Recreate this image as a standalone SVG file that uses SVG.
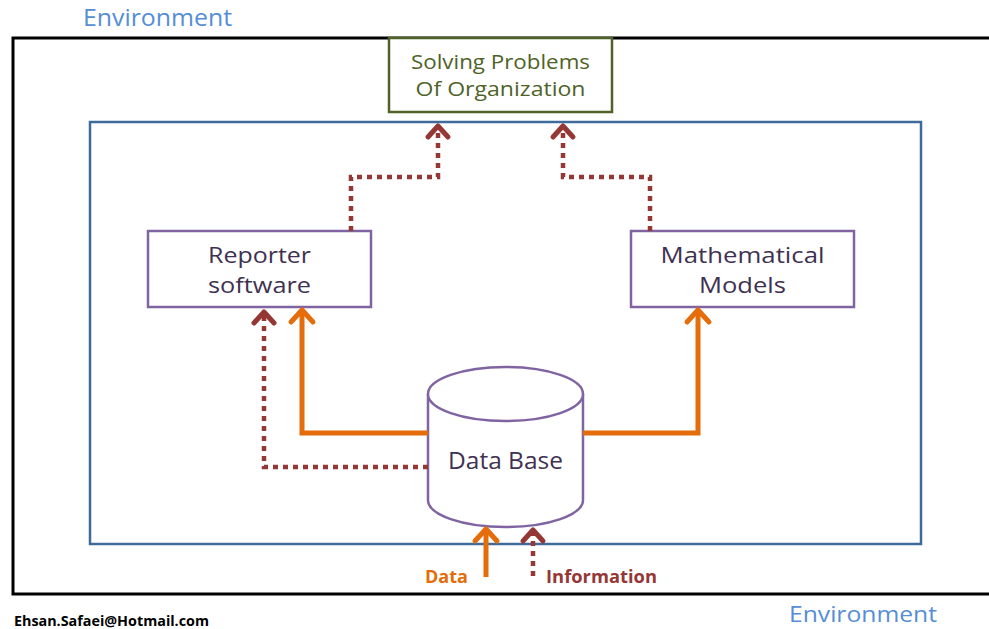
<svg xmlns="http://www.w3.org/2000/svg" width="989" height="629" viewBox="0 0 989 629">
<defs>
<style>
.box{fill:#fff;stroke:#8064A2;stroke-width:2.5}
.lbl{font-family:"Open Sans","Liberation Sans",sans-serif;font-size:22px;fill:#403152;text-anchor:middle}
.env{font-family:"Open Sans","Liberation Sans",sans-serif;font-size:24px;fill:#558ED5}
.org{fill:none;stroke:#E46C0A;stroke-width:5;stroke-linejoin:miter}
.dot{fill:none;stroke:#953735;stroke-width:4.5;stroke-dasharray:5 5}
.ho{fill:none;stroke:#E46C0A;stroke-width:5;stroke-linecap:round;stroke-linejoin:round}
.hr{fill:none;stroke:#953735;stroke-width:5;stroke-linecap:round;stroke-linejoin:round}
</style>
</defs>
<rect width="989" height="629" fill="#fff"/>
<g id="environment">
<path d="M989 38 H13 V594 H989" fill="none" stroke="#000" stroke-width="3"/>
<text class="env" x="83" y="26" textLength="149" lengthAdjust="spacingAndGlyphs">Environment</text>
<text class="env" x="789" y="622" style="font-size:21px" textLength="148" lengthAdjust="spacingAndGlyphs">Environment</text>
</g>
<g id="system">
<rect x="90" y="122" width="831" height="422" fill="none" stroke="#3F6B9A" stroke-width="2.5"/>
</g>
<g id="solving">
<rect x="389" y="38" width="223" height="74" fill="#fff" stroke="#4F6228" stroke-width="2.5"/>
<text class="lbl" x="500.5" y="69" style="fill:#4F6228;font-size:20px" textLength="179" lengthAdjust="spacingAndGlyphs">Solving Problems</text>
<text class="lbl" x="500.5" y="96" style="fill:#4F6228;font-size:20px" textLength="170" lengthAdjust="spacingAndGlyphs">Of Organization</text>
</g>
<g id="reporter">
<rect class="box" x="148" y="231" width="223" height="76"/>
<text class="lbl" x="259.5" y="263" textLength="103" lengthAdjust="spacingAndGlyphs">Reporter</text>
<text class="lbl" x="259.5" y="293" textLength="103" lengthAdjust="spacingAndGlyphs">software</text>
</g>
<g id="math">
<rect class="box" x="631" y="231" width="223" height="76"/>
<text class="lbl" x="742.5" y="263" textLength="164" lengthAdjust="spacingAndGlyphs">Mathematical</text>
<text class="lbl" x="742.5" y="293" textLength="87" lengthAdjust="spacingAndGlyphs">Models</text>
</g>
<g id="database">
<path d="M428 394 V500 A77.5 27 0 0 0 583 500 V394" fill="#fff" stroke="#8064A2" stroke-width="2.5"/>
<ellipse cx="505.5" cy="394" rx="77.5" ry="27" fill="#fff" stroke="#8064A2" stroke-width="2.5"/>
<text class="lbl" x="505.5" y="469" style="font-size:24px" textLength="115" lengthAdjust="spacingAndGlyphs">Data Base</text>
</g>
<g id="connectors">
<path class="org" d="M428 433 H302 V310"/>
<path class="ho" d="M291 322 L302 310 L313 322"/>
<path class="org" d="M583 433 H698 V310"/>
<path class="ho" d="M687 322 L698 310 L709 322"/>
<path class="dot" d="M428 467 H264 V312"/>
<path class="hr" d="M254 323 L264 312 L274 323"/>
<path class="dot" d="M351 231 V177 H438 V127"/>
<path class="hr" d="M428 137 L438 126 L448 137"/>
<path class="dot" d="M650 231 V177 H563 V127"/>
<path class="hr" d="M553 137 L563 126 L573 137"/>
<path class="org" d="M486 577 V530"/>
<path class="ho" d="M475 541 L486 529 L497 541"/>
<path class="dot" d="M533 576 V531"/>
<path class="hr" d="M523 541 L533 530 L543 541"/>
</g>
<g id="labels" font-family="'Open Sans','Liberation Sans',sans-serif" font-weight="bold" font-size="17">
<text x="425" y="583" fill="#E46C0A" textLength="43" lengthAdjust="spacingAndGlyphs">Data</text>
<text x="546" y="583" fill="#953735" textLength="111" lengthAdjust="spacingAndGlyphs">Information</text>
<text x="14" y="626" fill="#000" font-size="14" textLength="195" lengthAdjust="spacingAndGlyphs">Ehsan.Safaei@Hotmail.com</text>
</g>
</svg>
